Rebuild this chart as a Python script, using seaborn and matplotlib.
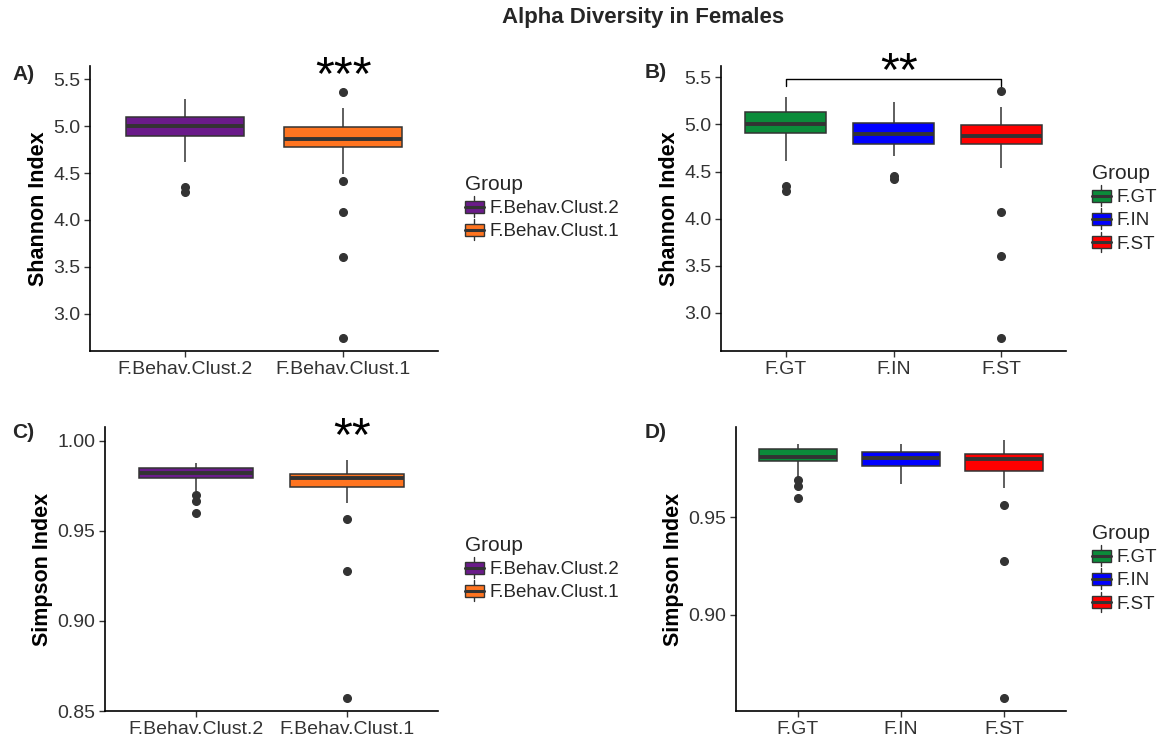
import numpy as np
import pandas as pd
import matplotlib
matplotlib.use("Agg")
import matplotlib.pyplot as plt
import seaborn as sns
from matplotlib.legend_handler import HandlerBase
from matplotlib.patches import Rectangle, Patch
from matplotlib.lines import Line2D

# ---------------- data ----------------
clust_groups = ["F.Behav.Clust.2", "F.Behav.Clust.1"]
clust_colors = ["#6a1b8a", "#ff7420"]
status_groups = ["F.GT", "F.IN", "F.ST"]
status_colors = ["#0b8c3a", "#0000ff", "#ff0000"]

# box statistics: [lower whisker, Q1, median, Q3, upper whisker]
shannon_clust_stats = [[4.62, 4.89, 5.00, 5.10, 5.29],
                       [4.49, 4.78, 4.86, 4.99, 5.19]]
shannon_clust_outliers = [[4.30, 4.35],
                          [2.74, 3.60, 4.08, 4.42, 5.36]]

shannon_status_stats = [[4.612, 4.907, 5.000, 5.134, 5.290],
                        [4.662, 4.797, 4.903, 5.013, 5.241],
                        [4.537, 4.793, 4.879, 4.996, 5.187]]
shannon_status_outliers = [[4.296, 4.350],
                           [4.420, 4.450],
                           [2.737, 3.603, 4.069, 5.354]]

simpson_clust_stats = [[0.9720, 0.9790, 0.9819, 0.9849, 0.9878],
                       [0.9652, 0.9744, 0.9790, 0.9816, 0.9893]]
simpson_clust_outliers = [[0.9596, 0.9663, 0.9698],
                          [0.8572, 0.9278, 0.9563]]

simpson_status_stats = [[0.9705, 0.9788, 0.9810, 0.9850, 0.9878],
                        [0.9673, 0.9764, 0.9803, 0.9834, 0.9878],
                        [0.9652, 0.9736, 0.9800, 0.9824, 0.9896]]
simpson_status_outliers = [[0.9598, 0.9659, 0.9690],
                           [],
                           [0.8572, 0.9277, 0.9563]]

shannon_ticks = [3.0, 3.5, 4.0, 4.5, 5.0, 5.5]
simpson_ticks_c = [0.85, 0.90, 0.95, 1.00]
simpson_ticks_d = [0.90, 0.95]

# ---------------- helpers ----------------
def sample(stats, outliers):
    """Observation list of 21 values reproducing the read box statistics."""
    wlo, q1, med, q3, whi = stats
    lo = sorted(v for v in outliers if v < q1)
    hi = sorted(v for v in outliers if v > q3)
    return (lo + [wlo] * (5 - len(lo)) + [q1] * 5 + [med] * 5
            + [q3] * (5 - len(hi)) + [whi] + hi)


def make_df(groups, stats, outs):
    rows = []
    for g, s, o in zip(groups, stats, outs):
        for v in sample(s, o):
            rows.append((g, v))
    return pd.DataFrame(rows, columns=["Group", "value"])


class BoxHandler(HandlerBase):
    def create_artists(self, legend, orig_handle, xdescent, ydescent,
                       width, height, fontsize, trans):
        fc = orig_handle.get_facecolor()
        x0, y0 = -xdescent, -ydescent
        cx = x0 + width / 2
        stub = height * 0.35
        w1 = Line2D([cx, cx], [y0 - stub, y0], color="#333333", lw=1.0, transform=trans)
        w2 = Line2D([cx, cx], [y0 + height, y0 + height + stub], color="#333333", lw=1.0, transform=trans)
        r = Rectangle((x0, y0), width, height, facecolor=fc, edgecolor="#333333",
                      lw=1.0, transform=trans)
        m = Line2D([x0, x0 + width], [y0 + height / 2] * 2, color="#333333",
                   lw=2.2, transform=trans)
        return [w1, w2, r, m]


sns.set_theme(style="white")
plt.rcParams["font.family"] = ["Liberation Sans", "DejaVu Sans"]

W, H = 1168, 737
fig = plt.figure(figsize=(W / 100, H / 100), dpi=100)


def fbox(l, t, r, b):
    return [l / W, 1 - b / H, (r - l) / W, (b - t) / H]


def draw(ax, groups, colors, stats, outs, ylim, yticks, fmt, ylabel, leg_xy):
    df = make_df(groups, stats, outs)
    sns.boxplot(data=df, x="Group", y="value", hue="Group", order=groups,
                hue_order=groups, palette=colors, saturation=1, width=0.75,
                linecolor="#333333", linewidth=1.1, showcaps=False,
                fliersize=5.5,
                flierprops=dict(marker="o", markerfacecolor="#333333",
                                markeredgecolor="#333333"),
                medianprops=dict(linewidth=2.8, color="#333333"),
                legend=False, ax=ax)
    ax.set_xlim(-0.6, len(groups) - 1 + 0.6)
    ax.set_ylim(*ylim)
    ax.set_yticks(yticks)
    ax.set_yticklabels([fmt % t for t in yticks])
    ax.set_xlabel("")
    ax.set_ylabel(ylabel, fontsize=15.5, fontweight="bold", color="black", labelpad=3)
    for s in ["top", "right"]:
        ax.spines[s].set_visible(False)
    for s in ["left", "bottom"]:
        ax.spines[s].set_color("black")
        ax.spines[s].set_linewidth(1.2)
    ax.tick_params(axis="both", which="major", length=4, width=1.0, color="#333333",
                   labelsize=14, labelcolor="#333333", pad=3, left=True, bottom=True)
    handles = [Patch(facecolor=c) for c in colors]
    leg = ax.legend(handles, groups, title="Group", handler_map={Patch: BoxHandler()},
                    loc="upper left", bbox_to_anchor=(leg_xy[0] / W, 1 - leg_xy[1] / H),
                    bbox_transform=fig.transFigure, frameon=False, fontsize=13.5,
                    title_fontsize=15, handlelength=1.0, handleheight=0.62,
                    handletextpad=0.3, labelspacing=0.33, borderpad=0,
                    borderaxespad=0)
    leg._legend_box.align = "left"
    return ax


axA = fig.add_axes(fbox(90, 66, 438, 351))
draw(axA, clust_groups, clust_colors, shannon_clust_stats, shannon_clust_outliers,
     (2.601, 5.642), shannon_ticks, "%.1f", "Shannon Index", (465, 175))

axB = fig.add_axes(fbox(721, 66, 1066, 351))
draw(axB, status_groups, status_colors, shannon_status_stats, shannon_status_outliers,
     (2.595, 5.62), shannon_ticks, "%.1f", "Shannon Index", (1092, 164))

axC = fig.add_axes(fbox(105, 427, 438, 711))
draw(axC, clust_groups, clust_colors, simpson_clust_stats, simpson_clust_outliers,
     (0.850, 1.0075), simpson_ticks_c, "%.2f", "Simpson Index", (465, 536))

axD = fig.add_axes(fbox(736, 427, 1066, 711))
draw(axD, status_groups, status_colors, simpson_status_stats, simpson_status_outliers,
     (0.8505, 0.9964), simpson_ticks_d, "%.2f", "Simpson Index", (1092, 524))

# significance annotations
star_kw = dict(ha="center", va="baseline", fontsize=35, fontweight="normal", color="black")
axA.text(1, 5.40, "***", **star_kw)
axB.plot([0, 0, 2, 2], [5.41, 5.486, 5.486, 5.41], color="black", lw=1.0, clip_on=False)
axB.text(1.05, 5.42, "**", **star_kw)
axC.text(1.03, 0.9948, "**", **star_kw)

# panel letters and title
for lab, x, y in [("A)", 12, 75), ("B)", 645, 73), ("C)", 12, 433), ("D)", 645, 433)]:
    fig.text(x / W, 1 - y / H, lab, fontsize=15, fontweight="bold", va="center", ha="left")
fig.text(643 / W, 1 - 17 / H, "Alpha Diversity in Females", fontsize=16,
         fontweight="bold", ha="center", va="center")

fig.savefig("out.png", dpi=100)
